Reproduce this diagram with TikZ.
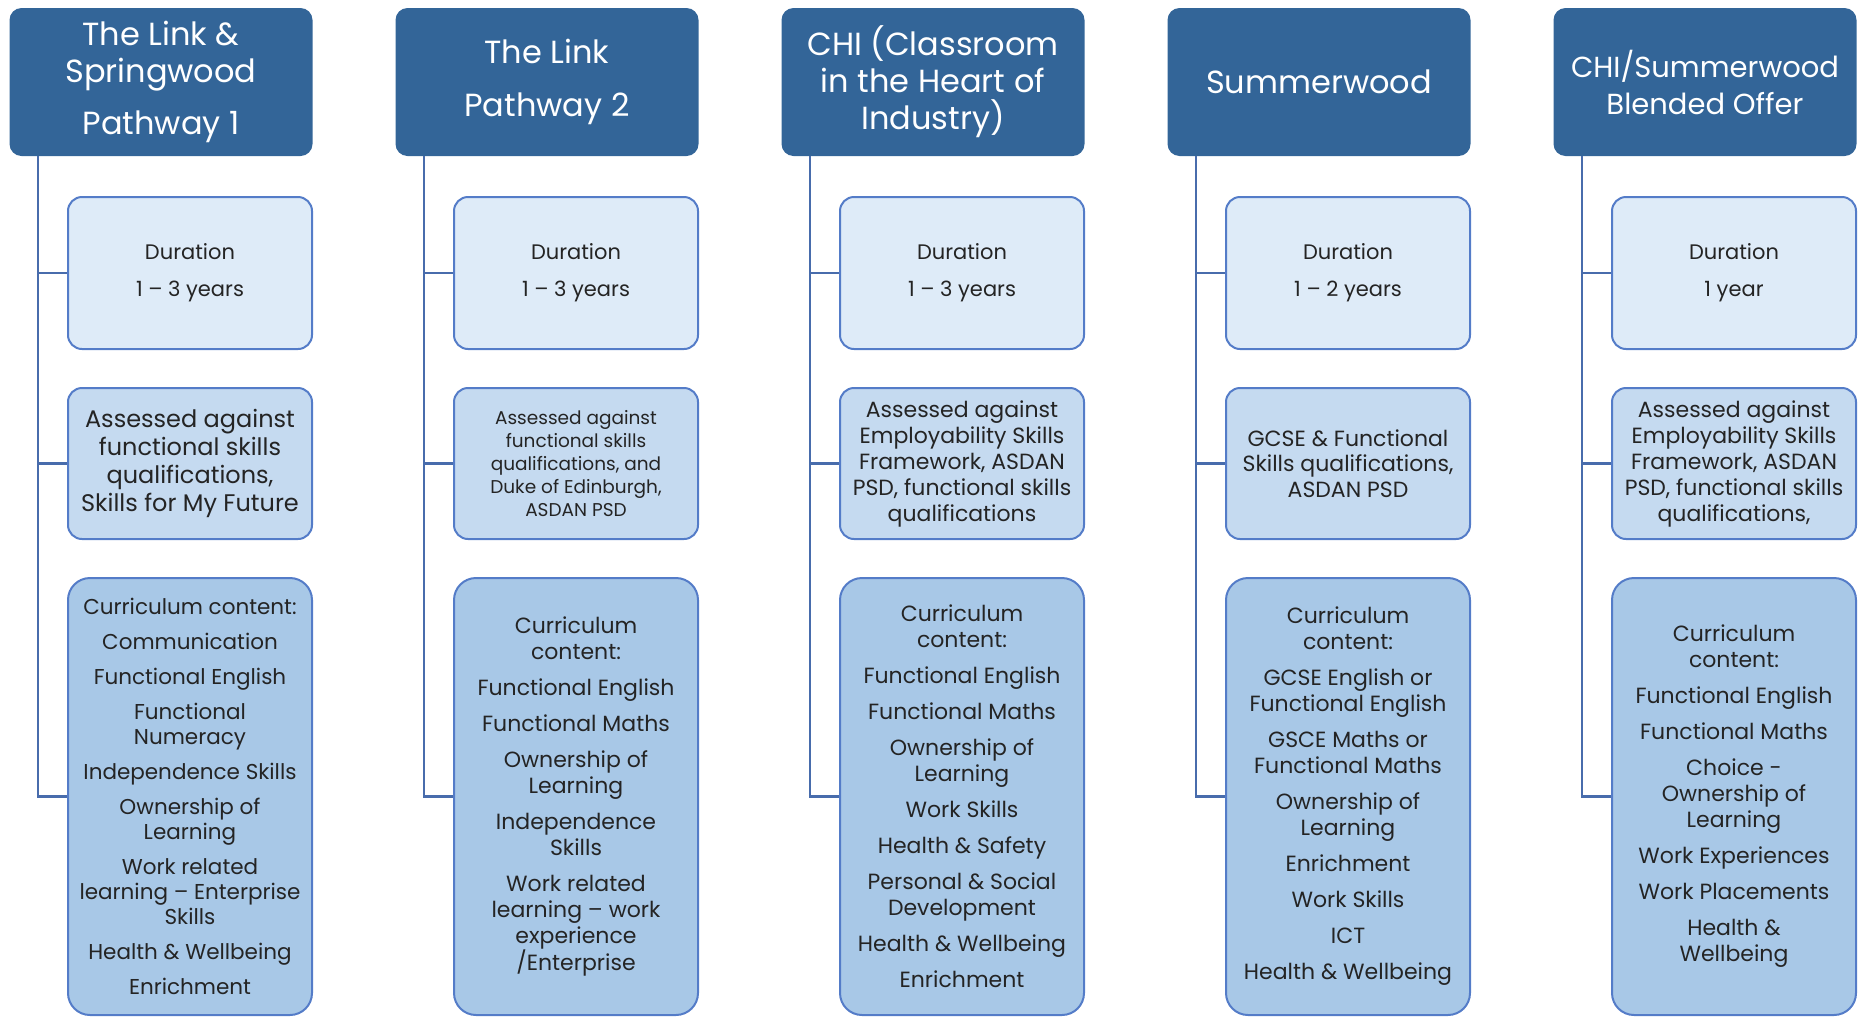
\documentclass[tikz,border=0pt]{standalone}
\usepackage{fontspec}
\setsansfont{Poppins}

\definecolor{hdrblue}{RGB}{51,101,152}
\definecolor{edgeblue}{RGB}{84,124,200}
\definecolor{linkblue}{RGB}{72,108,172}
\definecolor{durfill}{RGB}{222,235,248}
\definecolor{assfill}{RGB}{197,218,240}
\definecolor{curfill}{RGB}{168,200,231}
\definecolor{inkgray}{RGB}{36,36,36}

\newcommand{\sized}[2]{\fontsize{#1pt}{#2pt}\selectfont}
\newcommand{\nextitem}{\\[10pt]}

\begin{document}
\begin{tikzpicture}[x=1pt, y=-1pt, every node/.style={align=center, inner sep=0pt},
  hdr/.style={rounded corners=12pt, fill=hdrblue, text=white,
    minimum width=303pt, minimum height=148pt, font=\sized{32}{37}},
  durbox/.style={rounded corners=14pt, draw=edgeblue, line width=2pt, fill=durfill,
    text=inkgray, minimum width=244pt, minimum height=152pt, font=\sized{21}{37}},
  assbox/.style={rounded corners=14pt, draw=edgeblue, line width=2pt, fill=assfill,
    text=inkgray, minimum width=244pt, minimum height=151pt},
  curbox/.style={rounded corners=22pt, draw=edgeblue, line width=2pt, fill=curfill,
    text=inkgray, minimum width=244pt, minimum height=437pt},
  link/.style={draw=linkblue, line width=2.2pt}]\sffamily
  \useasboundingbox (0,0) rectangle (1866,1018);

  % The Link & Springwood, pathway 1
  \node[hdr]
    (LP1) at (161, 82)
    {The Link \&\\
    Springwood\\[15pt]
    Pathway 1};

  \node[durbox]
    (LP1dur) at (190, 273)
    {Duration\\
    1 -- 3 years};

  \node[assbox, font=\sized{24}{28}]
    (LP1ass) at (190, 463.5)
    {Assessed against\\
    functional skills\\
    qualifications,\\
    Skills for My Future};

  \node[curbox, font=\sized{21.5}{25}]
    (LP1cur) at (190, 796.5)
    {Curriculum content:\nextitem
    Communication\nextitem
    Functional English\nextitem
    Functional\\Numeracy\nextitem
    Independence Skills\nextitem
    Ownership of\\Learning\nextitem
    Work related\\learning -- Enterprise\\Skills\nextitem
    Health \& Wellbeing\nextitem
    Enrichment};

  % The Link, pathway 2
  \node[hdr]
    (LP2) at (547, 82)
    {The Link\\[16pt]
    Pathway 2};

  \node[durbox]
    (LP2dur) at (576, 273)
    {Duration\\
    1 -- 3 years};

  \node[assbox, font=\sized{18.5}{23.2}]
    (LP2ass) at (576, 463.5)
    {Assessed against\\
    functional skills\\
    qualifications, and\\
    Duke of Edinburgh,\\
    ASDAN PSD};

  \node[curbox, font=\sized{22}{26}]
    (LP2cur) at (576, 796.5)
    {Curriculum\\content:\nextitem
    Functional English\nextitem
    Functional Maths\nextitem
    Ownership of\\Learning\nextitem
    Independence\\Skills\nextitem
    Work related\\learning -- work\\experience\\/Enterprise};

  % Classroom in the Heart of Industry
  \node[hdr]
    (CHI) at (933, 82)
    {CHI (Classroom\\
    in the Heart of\\
    Industry)};

  \node[durbox]
    (CHIdur) at (962, 273)
    {Duration\\
    1 -- 3 years};

  \node[assbox, font=\sized{22}{26}]
    (CHIass) at (962, 463.5)
    {Assessed against\\
    Employability Skills\\
    Framework, ASDAN\\
    PSD, functional skills\\
    qualifications};

  \node[curbox, font=\sized{22}{26}]
    (CHIcur) at (962, 796.5)
    {Curriculum\\content:\nextitem
    Functional English\nextitem
    Functional Maths\nextitem
    Ownership of\\Learning\nextitem
    Work Skills\nextitem
    Health \& Safety\nextitem
    Personal \& Social\\Development\nextitem
    Health \& Wellbeing\nextitem
    Enrichment};

  % Summerwood
  \node[hdr]
    (SW) at (1319, 82)
    {Summerwood};

  \node[durbox]
    (SWdur) at (1348, 273)
    {Duration\\
    1 -- 2 years};

  \node[assbox, font=\sized{22}{25.6}]
    (SWass) at (1348, 463.5)
    {GCSE \& Functional\\
    Skills qualifications,\\
    ASDAN PSD};

  \node[curbox, font=\sized{22}{26}]
    (SWcur) at (1348, 796.5)
    {Curriculum\\content:\nextitem
    GCSE English or\\Functional English\nextitem
    GSCE Maths or\\Functional Maths\nextitem
    Ownership of\\Learning\nextitem
    Enrichment\nextitem
    Work Skills\nextitem
    ICT\nextitem
    Health \& Wellbeing};

  % blended offer
  \node[hdr, font=\sized{29}{37}]
    (BO) at (1705, 82)
    {CHI/Summerwood\\
    Blended Offer};

  \node[durbox]
    (BOdur) at (1734, 273)
    {Duration\\
    1 year};

  \node[assbox, font=\sized{22}{26}]
    (BOass) at (1734, 463.5)
    {Assessed against\\
    Employability Skills\\
    Framework, ASDAN\\
    PSD, functional skills\\
    qualifications,};

  \node[curbox, font=\sized{22}{26}]
    (BOcur) at (1734, 796.5)
    {Curriculum\\content:\nextitem
    Functional English\nextitem
    Functional Maths\nextitem
    Choice -\\Ownership of\\Learning\nextitem
    Work Experiences\nextitem
    Work Placements\nextitem
    Health \&\\Wellbeing};

  % connectors
  \draw[link] ([xshift=28.5pt]LP1.south west) |- (LP1dur.west);
  \draw[link] ([xshift=28.5pt]LP1.south west) |- (LP1ass.west);
  \draw[link] ([xshift=28.5pt]LP1.south west) |- (LP1cur.west);
  \draw[link] ([xshift=28.5pt]LP2.south west) |- (LP2dur.west);
  \draw[link] ([xshift=28.5pt]LP2.south west) |- (LP2ass.west);
  \draw[link] ([xshift=28.5pt]LP2.south west) |- (LP2cur.west);
  \draw[link] ([xshift=28.5pt]CHI.south west) |- (CHIdur.west);
  \draw[link] ([xshift=28.5pt]CHI.south west) |- (CHIass.west);
  \draw[link] ([xshift=28.5pt]CHI.south west) |- (CHIcur.west);
  \draw[link] ([xshift=28.5pt]SW.south west) |- (SWdur.west);
  \draw[link] ([xshift=28.5pt]SW.south west) |- (SWass.west);
  \draw[link] ([xshift=28.5pt]SW.south west) |- (SWcur.west);
  \draw[link] ([xshift=28.5pt]BO.south west) |- (BOdur.west);
  \draw[link] ([xshift=28.5pt]BO.south west) |- (BOass.west);
  \draw[link] ([xshift=28.5pt]BO.south west) |- (BOcur.west);

\end{tikzpicture}
\end{document}
